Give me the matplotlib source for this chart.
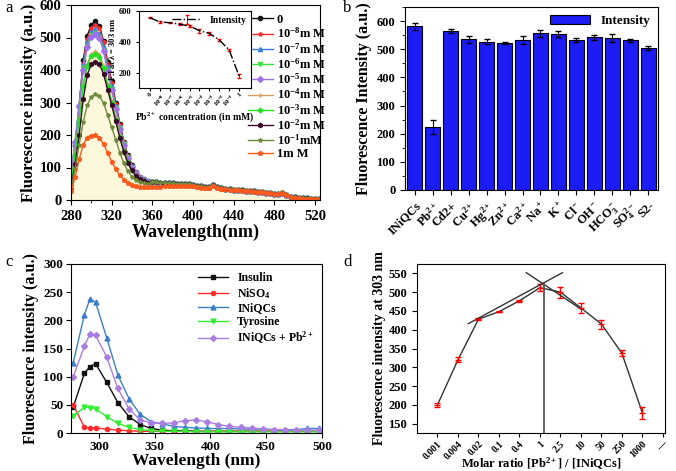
import matplotlib.pyplot as plt
from matplotlib.ticker import MultipleLocator

plt.rcParams['font.family'] = ['Liberation Serif', 'DejaVu Serif']
plt.rcParams['font.weight'] = 'bold'
plt.rcParams['axes.labelweight'] = 'bold'
plt.rcParams['mathtext.fontset'] = 'custom'
plt.rcParams['mathtext.rm'] = 'Liberation Serif:bold'
plt.rcParams['mathtext.bf'] = 'Liberation Serif:bold'
plt.rcParams['mathtext.it'] = 'Liberation Serif:italic:bold'
plt.rcParams['mathtext.default'] = 'rm'
plt.rcParams['xtick.direction'] = 'out'
plt.rcParams['ytick.direction'] = 'out'

# ---- panel a : emission spectra for each Pb2+ concentration ----
wl_peak = list(range(280, 360, 4))
wl_tail = list(range(360, 528, 4))
wl_a = wl_peak + wl_tail

tail_high = [55, 54, 53, 52, 51, 51, 50, 50, 49, 48,
             46, 44, 42, 40, 40, 45, 40, 36, 34, 33,
             32, 31, 30, 29, 28, 27, 26, 25, 23, 22,
             20, 20, 22, 15, 10, 8, 6, 5, 5, 4,
             4, 4]
tail_low = [40, 40, 41, 42, 43, 43, 44, 44, 44, 43,
            42, 40, 38, 37, 38, 42, 38, 35, 33, 32,
            31, 30, 29, 28, 27, 26, 25, 24, 22, 21,
            19, 20, 22, 14, 9, 7, 5, 4, 4, 3,
            3, 3]

spec_0 = [60, 170, 290, 430, 505, 540, 550, 535, 490, 425, 365, 300, 235, 180, 138, 108, 86, 72, 64, 58] + tail_high
spec_e8 = [60, 165, 285, 420, 495, 530, 540, 528, 485, 420, 360, 295, 232, 178, 136, 106, 85, 71, 63, 57] + tail_high
spec_e7 = [75, 175, 290, 415, 485, 518, 525, 512, 470, 408, 350, 288, 226, 174, 133, 104, 83, 70, 62, 56] + tail_high
spec_e6 = [70, 170, 285, 405, 475, 508, 515, 503, 462, 400, 342, 282, 222, 171, 131, 102, 82, 69, 61, 55] + tail_high
spec_e5 = [80, 180, 290, 400, 470, 503, 510, 498, 458, 398, 340, 280, 220, 170, 130, 102, 82, 69, 61, 55] + tail_high
spec_e4 = [50, 145, 250, 355, 420, 450, 458, 448, 412, 358, 305, 252, 198, 153, 118, 93, 76, 65, 58, 53] + tail_high
spec_e3 = [45, 140, 245, 350, 413, 443, 450, 440, 405, 352, 300, 247, 195, 150, 116, 91, 74, 63, 57, 52] + tail_high
spec_e2 = [35, 110, 200, 310, 385, 418, 425, 418, 388, 340, 292, 242, 192, 148, 115, 91, 74, 64, 58, 53] + tail_high
spec_e1 = [35, 95, 170, 240, 292, 318, 325, 320, 298, 262, 224, 185, 146, 113, 89, 72, 62, 56, 52, 50] + tail_high
spec_1 = [27, 70, 125, 170, 192, 198, 200, 192, 172, 145, 118, 95, 76, 63, 53, 47, 43, 40, 39, 39] + tail_low

spectra = [spec_0, spec_e8, spec_e7, spec_e6, spec_e5, spec_e4, spec_e3, spec_e2, spec_e1, spec_1]
conc_labels = ['0', r'10$^{-8}$m M', r'10$^{-7}$m M', r'10$^{-6}$m M', r'10$^{-5}$m M',
               r'10$^{-4}$m M', r'10$^{-3}$m M', r'10$^{-2}$m M', r'10$^{-1}$mM', '1m M']
conc_colors = ['#111111', '#ff2a2a', '#3b7fe0', '#3ce23c', '#a070e8',
               '#d6a060', '#22e022', '#3a0a2a', '#6e8b3d', '#ff5a1e']
conc_markers = ['o', '*', '^', 'v', 'D', '+', 'P', 'h', '*', 'p']

# inset : intensity at 303 nm
inset_labels = ['0', r'10$^{-8}$', r'10$^{-7}$', r'10$^{-6}$', r'10$^{-5}$',
                r'10$^{-4}$', r'10$^{-3}$', r'10$^{-2}$', r'10$^{-1}$', '1']
inset_vals = [556, 529, 524, 514, 503, 472, 455, 412, 347, 178]
inset_err = [4, 4, 4, 5, 5, 12, 8, 7, 6, 15]

# ---- panel b : selectivity ----
ions = ['INiQCs', r'Pb$^{2+}$', 'Cd2+', r'Cu$^{2+}$', r'Hg$^{2+}$', r'Zn$^{2+}$', r'Ca$^{2+}$',
        'Na$^+$', 'K$^+$', 'Cl$^-$', 'OH$^-$', 'HCO$_3^-$', 'SO$_4^{2-}$', 'S2-']
ion_vals = [582, 225, 565, 535, 527, 522, 532, 557, 554, 532, 542, 540, 532, 505]
ion_err = [12, 25, 8, 12, 8, 5, 14, 13, 12, 8, 8, 15, 5, 8]

# ---- panel c : control spectra ----
wl_c = [277, 287, 292, 297, 307, 317, 327, 337, 347, 357, 367, 377,
        387, 397, 407, 417, 427, 437, 447, 457, 467, 477, 487, 497]
insulin = [46, 106, 118, 123, 90, 54, 29, 15, 8, 5, 4, 4, 3, 3, 3, 3, 3, 3, 3, 3, 3, 3, 3, 3]
niso4 = [50, 10, 9, 9, 7, 5, 4, 3, 3, 3, 3, 3, 3, 3, 3, 3, 3, 3, 3, 3, 3, 3, 3, 3]
iniqcs = [125, 210, 238, 232, 169, 103, 61, 33, 20, 16, 12, 10, 9, 8, 8, 8, 7, 7, 7, 6, 6, 6, 8, 8]
tyrosine = [30, 46, 45, 43, 29, 17, 10, 6, 4, 3, 3, 3, 2, 2, 2, 2, 2, 2, 2, 2, 2, 2, 2, 2]
iniqcs_pb = [100, 154, 176, 174, 135, 79, 43, 23, 18, 17, 18, 22, 23, 20, 15, 12, 10, 9, 7, 6, 5, 5, 5, 5]

# ---- panel d : molar ratio ----
ratios = ['0.001', '0.004', '0.02', '0.1', '0.4', '1', '2.5', '10', '50', '250', '1000']
ratio_vals = [200, 320, 428, 448, 477, 512, 500, 458, 415, 337, 178]
ratio_err = [5, 7, 3, 2, 2, 10, 15, 14, 12, 8, 15]
rise_line = [(2.5, 416), (7.1, 552)]
fall_line = [(5.33, 552), (8.0, 455)]
cross_x = 6.2
cross_top = 523

fig = plt.figure(figsize=(6.76, 4.71), dpi=100)


def px_axes(left, top, right, bottom):
    W, H = 676.0, 471.0
    return fig.add_axes([left / W, 1 - bottom / H, (right - left) / W, (bottom - top) / H])


# panel a
ax = px_axes(71, 5, 320, 200)
ax.fill_between(wl_a, 0, spec_e4, color='#fdf8dc', zorder=0, lw=0)
for vals, lab, col, mk in zip(spectra, conc_labels, conc_colors, conc_markers):
    ax.plot(wl_a, vals, color=col, marker=mk, ms=3, lw=1, label=lab)
ax.set_xlim(280, 525)
ax.set_ylim(0, 600)
ax.xaxis.set_major_locator(MultipleLocator(40))
ax.xaxis.set_minor_locator(MultipleLocator(20))
ax.yaxis.set_major_locator(MultipleLocator(100))
ax.tick_params(labelsize=10.5)
ax.set_xlabel('Wavelength(nm)', fontsize=13, labelpad=1)
ax.set_ylabel('Fluorescence intensity (a.u.)', fontsize=12, labelpad=2)
ax.legend(loc='upper left', bbox_to_anchor=(0.675, 1.0), frameon=False, fontsize=9,
          handlelength=2.0, handletextpad=0.3, labelspacing=0.05, borderaxespad=0.3)

ins = px_axes(139, 11, 251, 88)
ins.errorbar(range(len(inset_vals)), inset_vals, yerr=inset_err, color='black', ls='-.',
             lw=1, ecolor='red', elinewidth=0.8, capsize=1.5, label='Intensity')
ins.set_xlim(-1.1, 10.2)
ins.set_ylim(100, 600)
ins.set_xticks(range(len(inset_labels)))
ins.set_xticklabels(inset_labels, rotation=45, fontsize=5)
ins.tick_params(axis='y', labelsize=6, length=2)
ins.tick_params(axis='x', length=2, pad=1)
ins.set_ylabel(r'F.I at $\lambda$ = 303 nm', fontsize=6, labelpad=1)
ins.set_xlabel(r'Pb$^{2+}$ concentration (in mM)', fontsize=7, labelpad=1)
ins.legend(loc='upper right', frameon=False, fontsize=7, handlelength=3, borderaxespad=0.1)

fig.text(5 / 676, 1 - 12 / 471, 'a', fontsize=12, weight='normal')

# panel b
bx = px_axes(405, 7, 658, 190)
bx.bar(range(len(ions)), ion_vals, width=0.85, color='#1c1cf5', edgecolor='black', lw=0.8,
       yerr=ion_err, capsize=2.5, error_kw={'elinewidth': 0.8}, label='Intensity')
bx.set_xlim(-0.55, len(ions) - 0.45)
bx.set_ylim(0, 650)
bx.yaxis.set_major_locator(MultipleLocator(100))
bx.yaxis.set_minor_locator(MultipleLocator(50))
bx.set_xticks(range(len(ions)))
bx.set_xticklabels(ions, rotation=45, ha='right', rotation_mode='anchor', fontsize=9)
bx.tick_params(axis='y', labelsize=9)
bx.set_ylabel('Fluorescence Intensity (a.u.)', fontsize=11.5, labelpad=3)
bx.legend(loc='upper right', frameon=False, fontsize=9.5, handlelength=3, borderaxespad=0.2)
fig.text(343 / 676, 1 - 12 / 471, 'b', fontsize=12, weight='normal')

# panel c
cx = px_axes(71, 264, 322, 433)
cx.plot(wl_c, insulin, color='#111111', marker='s', ms=3, lw=1, label='Insulin')
cx.plot(wl_c, niso4, color='#ff2a2a', marker='o', ms=3, lw=1, label=r'NiSO$_4$')
cx.plot(wl_c, iniqcs, color='#3b7fc8', marker='^', ms=3.5, lw=1, label='INiQCs')
cx.plot(wl_c, tyrosine, color='#33ee33', marker='v', ms=3.5, lw=1, label='Tyrosine')
cx.plot(wl_c, iniqcs_pb, color='#a97ee0', marker='D', ms=3, lw=1, label=r'INiQCs + Pb$^{2+}$')
cx.set_xlim(275, 500)
cx.set_ylim(0, 300)
cx.xaxis.set_major_locator(MultipleLocator(50))
cx.yaxis.set_major_locator(MultipleLocator(50))
cx.tick_params(labelsize=9.5, pad=2)
cx.set_xlabel('Wavelength (nm)', fontsize=12.5, labelpad=0)
cx.set_ylabel('Fluorescence intensity (a.u.)', fontsize=11.5, labelpad=3)
cx.legend(loc='upper right', frameon=False, fontsize=8.5, handlelength=2.5, labelspacing=0.15,
          borderaxespad=0.3)
fig.text(5 / 676, 1 - 266 / 471, 'c', fontsize=12, weight='normal')

# panel d
dx = px_axes(417, 264, 665, 433)
xs = list(range(1, len(ratios) + 1))
dx.plot(xs, ratio_vals, color='#333333', lw=1)
dx.errorbar(xs, ratio_vals, yerr=ratio_err, fmt='_', color='red', ms=4,
            elinewidth=1, capsize=2)
dx.plot([p[0] for p in rise_line], [p[1] for p in rise_line], color='#333333', lw=1)
dx.plot([p[0] for p in fall_line], [p[1] for p in fall_line], color='#333333', lw=1)
dx.plot([cross_x, cross_x], [125, cross_top], color='#555555', lw=1.3)
dx.set_xlim(0, 12.1)
dx.set_ylim(125, 575)
dx.yaxis.set_major_locator(MultipleLocator(50))
dx.set_xticks(xs + [12])
dx.set_xticklabels(ratios + ['—'], rotation=45, ha='right', rotation_mode='anchor', fontsize=7)
dx.tick_params(axis='y', labelsize=9)
dx.tick_params(axis='x', pad=1.5, length=3)
dx.set_ylabel('Fluorescence intensity at 303 nm', fontsize=10, labelpad=2)
dx.set_xlabel(r'Molar ratio [Pb$^{2+}$] / [INiQCs]', fontsize=9)
dx.xaxis.set_label_coords(0.5, -0.135)
fig.text(343 / 676, 1 - 266 / 471, 'd', fontsize=12, weight='normal')

fig.savefig('out.png', dpi=100)
